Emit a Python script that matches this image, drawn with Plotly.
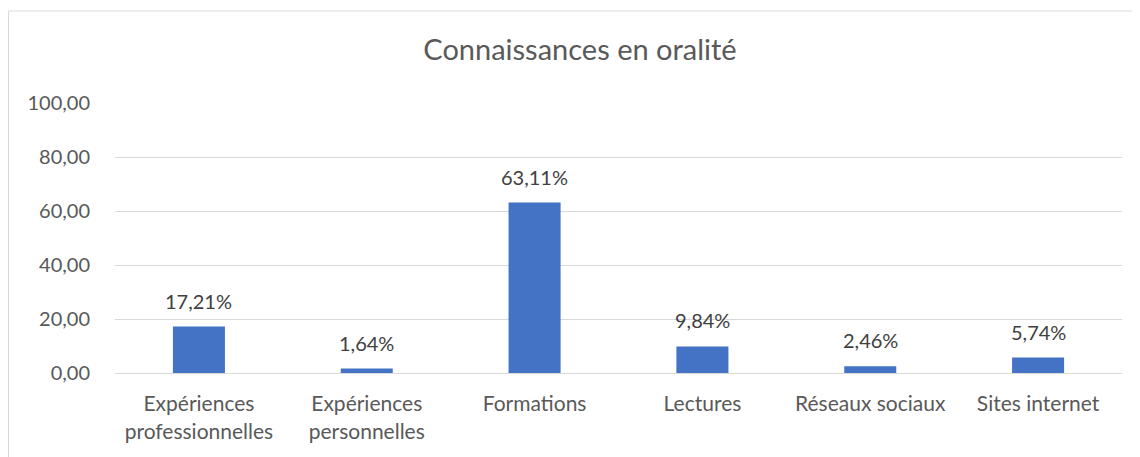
import plotly.graph_objects as go

categories = ["Expériences<br>professionnelles", "Expériences<br>personnelles", "Formations",
              "Lectures", "Réseaux sociaux", "Sites internet"]
values = [17.21, 1.64, 63.11, 9.84, 2.46, 5.74]
labels = [f"{v:.2f}%".replace(".", ",") for v in values]
tick_vals = [0, 20, 40, 60, 80, 100]

FONT = "Lato"
GREY = "#595959"
FS = 20

fig = go.Figure(go.Bar(
    x=categories, y=values,
    marker=dict(color="#4472C4", line=dict(width=0)),
))

for c, v, s in zip(categories, values, labels):
    fig.add_annotation(x=c, y=v, text=s, showarrow=False, yanchor="bottom",
                       yshift=12, font=dict(family=FONT, size=FS, color="#404040"))

# page has an 8px body margin -> figure coords = page coords - 8
W, H = 1132, 449
l, r, t, b = 107, 18, 95, 84
pw, ph = W - l - r, H - t - b

fig.update_layout(
    width=W, height=H,
    margin=dict(l=l, r=r, t=t, b=b),
    paper_bgcolor="white", plot_bgcolor="white",
    separators=",.",
    bargap=0.69,
    showlegend=False,
    title=dict(text="Connaissances en oralité", x=572 / W, y=1 - 42 / H,
               xanchor="center", yanchor="middle",
               font=dict(family=FONT, size=29, color=GREY)),
    font=dict(family=FONT, color=GREY),
    xaxis=dict(tickfont=dict(family=FONT, size=FS + 1, color=GREY), showline=True,
               linecolor="#d9d9d9", linewidth=1, ticks="outside", ticklen=12,
               tickcolor="rgba(0,0,0,0)", showgrid=False),
    yaxis=dict(range=[0, 100], tickvals=tick_vals, tickformat=".2f",
               tickfont=dict(family=FONT, size=FS, color=GREY),
               gridcolor="#d9d9d9", gridwidth=1, zeroline=False, ticks="outside",
               ticklen=20, tickcolor="rgba(0,0,0,0)"),
    shapes=[dict(type="rect", xref="paper", yref="paper",
                 x0=(0.5 - l) / pw, x1=(W + 20 - l) / pw,
                 y0=-(b + 20) / ph, y1=1 + (t - 3) / ph,
                 line=dict(color="#d9d9d9", width=1), fillcolor="rgba(0,0,0,0)",
                 layer="below")],
)

fig.write_html("out.html")
